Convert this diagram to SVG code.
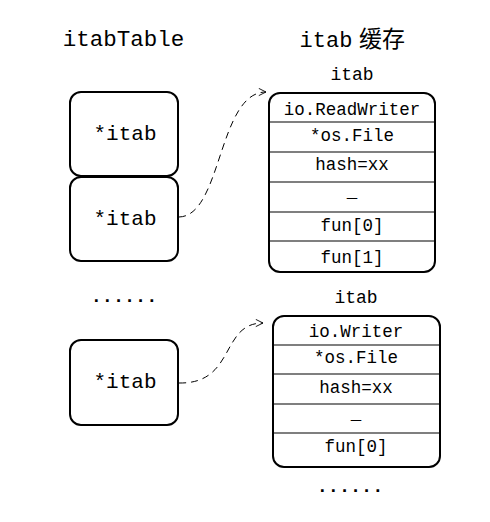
<svg xmlns="http://www.w3.org/2000/svg" width="490" height="522" viewBox="0 0 490 522">
<style>
.t{font-family:"Liberation Mono","DejaVu Sans Mono",monospace;fill:#000;text-anchor:middle}
.box{fill:#fff;stroke:#000;stroke-width:2}
.row{stroke:#000;stroke-width:1.2}
.con{fill:none;stroke:#000;stroke-width:1;stroke-dasharray:7,5}
.dots{font-weight:bold}
</style>
<defs>
<marker id="arr" viewBox="0 0 10 10" refX="9" refY="5" markerWidth="9" markerHeight="9" markerUnits="userSpaceOnUse" orient="auto">
<path d="M1,1 L9,5 L1,9" fill="none" stroke="#000" stroke-width="1"/>
</marker>
</defs>
<rect width="490" height="522" fill="#fff"/>
<text class="t" x="123.5" y="46" font-size="22.5">itabTable</text>
<text class="t" x="326" y="47" font-size="22">itab</text>
<text x="359" y="47" font-family="Noto Sans CJK SC, sans-serif" font-size="23" fill="#000">缓存</text>

<g id="ptr1">
<rect class="box" x="70" y="92" width="108" height="84" rx="11"/>
<text class="t" x="125" y="140" font-size="21">*itab</text>
</g>
<g id="ptr2">
<rect class="box" x="70" y="177" width="108" height="84" rx="11"/>
<text class="t" x="125" y="225" font-size="21">*itab</text>
</g>
<text class="t dots" x="124" y="301.5" font-size="18.5">......</text>
<g id="ptr3">
<rect class="box" x="70" y="340" width="108" height="85" rx="11"/>
<text class="t" x="125" y="388" font-size="21">*itab</text>
</g>

<g id="itab1">
<text class="t" x="352" y="80" font-size="18">itab</text>
<rect class="box" x="269" y="93" width="166" height="179" rx="11"/>
<line class="row" x1="269" y1="122" x2="435" y2="122"/>
<line class="row" x1="269" y1="152" x2="435" y2="152"/>
<line class="row" x1="269" y1="182" x2="435" y2="182"/>
<line class="row" x1="269" y1="212" x2="435" y2="212"/>
<line class="row" x1="269" y1="241" x2="435" y2="241"/>
<text class="t" x="352" y="115" font-size="17.5">io.ReadWriter</text>
<text class="t" x="352" y="141" font-size="17.5">*os.File</text>
<text class="t" x="352" y="170" font-size="17.5">hash=xx</text>
<text class="t" x="352" y="197" font-size="17.5">_</text>
<text class="t" x="352" y="231" font-size="17.5">fun[0]</text>
<text class="t" x="352" y="263" font-size="17.5">fun[1]</text>
</g>

<g id="itab2">
<text class="t" x="356" y="303" font-size="18">itab</text>
<rect class="box" x="273" y="316" width="167" height="151" rx="11"/>
<line class="row" x1="273" y1="345" x2="440" y2="345"/>
<line class="row" x1="273" y1="374" x2="440" y2="374"/>
<line class="row" x1="273" y1="404" x2="440" y2="404"/>
<line class="row" x1="273" y1="433" x2="440" y2="433"/>
<text class="t" x="356" y="337" font-size="17.5">io.Writer</text>
<text class="t" x="356" y="363" font-size="17.5">*os.File</text>
<text class="t" x="356" y="393" font-size="17.5">hash=xx</text>
<text class="t" x="356" y="419" font-size="17.5">_</text>
<text class="t" x="356" y="452" font-size="17.5">fun[0]</text>
</g>
<text class="t dots" x="350" y="491.5" font-size="18.5">......</text>

<g id="connectors">
<path class="con" d="M179,217 C222,216 218,92 266,92" marker-end="url(#arr)"/>
<path class="con" d="M179,383 C236,384 220,323 263,323" marker-end="url(#arr)"/>
</g>
</svg>
